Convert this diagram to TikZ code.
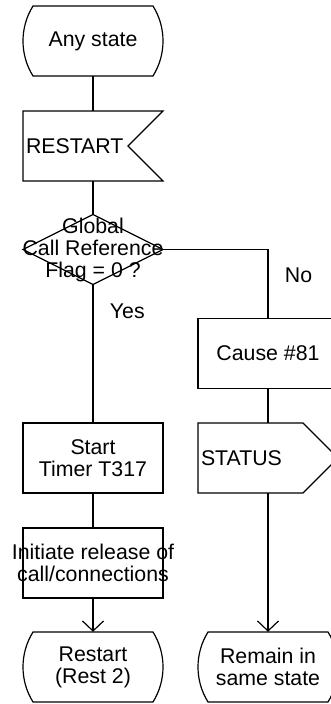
\documentclass[tikz,border=0pt]{standalone}
\usepackage{fontspec}
\setmainfont{Liberation Sans}
\usetikzlibrary{arrows.meta,positioning}

\tikzset{
  box/.style={inner sep=0pt, minimum width=140pt, minimum height=70pt, align=center},
  sigbox/.style={box, text width=134pt, align=left},
  outline/.style={line width=1.2pt},
  flow/.style={line width=1.2pt},
  flowto/.style={flow, -{Straight Barb[length=10pt,width=21pt]}},
}

\begin{document}
\begin{tikzpicture}[x=1pt, y=1pt, font=\fontsize{21.3}{22}\selectfont]
\useasboundingbox (0,0) rectangle (331,704);

% left column
\node[box] (any) at (93,663) {Any state};
\node[sigbox] (restart) at (93,558) {RESTART};
\node[box] (dec) at (93,454.5) {Global\\Call Reference\\Flag = 0 ?};
\node[box] (timer) at (93,246) {Start\\Timer T317};
\node[box] (init) at (93,141) {Initiate release of\\call/connections};
\node[box] (rest) at (93,37) {Restart\\(Rest 2)};

% right column
\node[box] (cause) at (268,350.5) {Cause \#81};
\node[sigbox] (status) at (268,246) {STATUS};
\node[box] (remain) at (268,37) {Remain in\\same state};

% symbols
\foreach \n in {any,rest,remain}
  \draw[outline] ([shift={(-60,35)}]\n.center) arc[start angle=148.1, end angle=211.9, radius=66.25]
    -- ([shift={(60,-35)}]\n.center) arc[start angle=-31.9, end angle=31.9, radius=66.25] -- cycle;
\foreach \n in {timer,init,cause}
  \draw[outline] ([shift={(-70,-35)}]\n.center) rectangle ([shift={(70,35)}]\n.center);
\draw[outline] ([shift={(-70,35)}]restart.center) -- ([shift={(70,35)}]restart.center)
  -- ([shift={(35,0)}]restart.center) -- ([shift={(70,-35)}]restart.center)
  -- ([shift={(-70,-35)}]restart.center) -- cycle;
\draw[outline] ([shift={(-70,35)}]status.center) -- ([shift={(35,35)}]status.center)
  -- ([shift={(70,0)}]status.center) -- ([shift={(35,-35)}]status.center)
  -- ([shift={(-70,-35)}]status.center) -- cycle;
\draw[outline] ([yshift=35]dec.center) -- ([xshift=70]dec.center)
  -- ([yshift=-35]dec.center) -- ([xshift=-70]dec.center) -- cycle;

% connections
\draw[flow] (any) -- (restart);
\draw[flow] (restart) -- (dec);
\draw[flow] (dec.south) -- node[pos=0.19, right=13pt] {Yes} (timer.north);
\draw[flow] ([xshift=70]dec.center) -| node[pos=0.69, right=13pt] {No} (cause.north);
\draw[flow] (cause) -- (status);
\draw[flow] (timer) -- (init);
\draw[flowto] (init) -- (rest);
\draw[flowto] (status) -- (remain);
\end{tikzpicture}
\end{document}
